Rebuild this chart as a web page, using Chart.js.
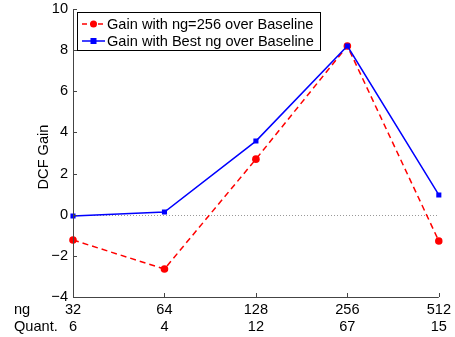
<!DOCTYPE html>
<html>
<head>
<meta charset="utf-8">
<script src="https://cdn.jsdelivr.net/npm/chart.js@4.4.0/dist/chart.umd.min.js"></script>
<style>
  html, body { margin: 0; padding: 0; background: #fff; }
  #wrap { width: 455px; height: 337px; }
</style>
</head>
<body>
<div id="wrap"><canvas id="chart" width="455" height="337"></canvas></div>
<script>
const ngLabels = ['32', '64', '128', '256', '512'];
const quantLabels = ['6', '4', '12', '67', '15'];
const gainNg256 = [-1.23, -2.64, 2.7, 8.2, -1.28];
const gainBestNg = [-0.06, 0.13, 3.58, 8.2, 0.96];
const yTicks = [-4, -2, 0, 2, 4, 6, 8, 10];

const FONT = '"Liberation Sans", Arial, sans-serif';
const FSIZE = 14.6;
const AXIS = '#444';

// draws the extra bits matlab style: zero line, inside ticks, titles, legend box
const extras = {
    id: 'extras',
    beforeDatasetsDraw(chart) {
        const { ctx, chartArea, scales } = chart;
        const y0 = scales.y.getPixelForValue(0);
        ctx.save();
        ctx.strokeStyle = '#999';
        ctx.lineWidth = 1;
        ctx.setLineDash([1, 2]);
        ctx.beginPath();
        ctx.moveTo(chartArea.left, Math.round(y0) + 0.5);
        ctx.lineTo(chartArea.right, Math.round(y0) + 0.5);
        ctx.stroke();
        ctx.restore();
    },
    afterDraw(chart) {
        const { ctx, chartArea, scales } = chart;
        ctx.save();
        ctx.strokeStyle = AXIS;
        ctx.lineWidth = 1;
        // axes
        ctx.beginPath();
        ctx.moveTo(chartArea.left + 0.5, chartArea.top);
        ctx.lineTo(chartArea.left + 0.5, chartArea.bottom + 0.5);
        ctx.lineTo(chartArea.right, chartArea.bottom + 0.5);
        ctx.stroke();
        // inside ticks
        yTicks.forEach(v => {
            const py = Math.round(scales.y.getPixelForValue(v)) + 0.5;
            ctx.beginPath();
            ctx.moveTo(chartArea.left, py);
            ctx.lineTo(chartArea.left + 4, py);
            ctx.stroke();
        });
        ngLabels.forEach((l, i) => {
            const px = Math.round(scales.x.getPixelForValue(i)) + 0.5;
            ctx.beginPath();
            ctx.moveTo(px, chartArea.bottom);
            ctx.lineTo(px, chartArea.bottom - 4);
            ctx.stroke();
        });

        ctx.fillStyle = '#000';
        ctx.font = FSIZE + 'px ' + FONT;
        ctx.textBaseline = 'middle';
        ctx.textAlign = 'left';
        ctx.fillText('ng', 14, 310);
        ctx.fillText('Quant.', 14, 327);

        // y title
        ctx.save();
        ctx.translate(44, 157);
        ctx.rotate(-Math.PI / 2);
        ctx.textAlign = 'center';
        ctx.fillText('DCF Gain', 0, 0);
        ctx.restore();

        // legend
        const bx = 77.5, by = 12.5, bw = 243, bh = 38;
        ctx.fillStyle = '#fff';
        ctx.fillRect(bx, by, bw, bh);
        ctx.strokeStyle = '#000';
        ctx.strokeRect(bx, by, bw, bh);
        const rows = [
            { text: 'Gain with ng=256 over Baseline', color: '#ff0000', dash: [5, 3], shape: 'circle' },
            { text: 'Gain with Best ng over Baseline', color: '#0000ff', dash: [], shape: 'rect' }
        ];
        rows.forEach((r, i) => {
            const cy = 24 + i * 17;
            ctx.strokeStyle = r.color;
            ctx.lineWidth = 1.5;
            ctx.setLineDash(r.dash);
            ctx.beginPath();
            ctx.moveTo(82, cy);
            ctx.lineTo(105, cy);
            ctx.stroke();
            ctx.setLineDash([]);
            ctx.fillStyle = r.color;
            if (r.shape === 'circle') {
                ctx.beginPath();
                ctx.arc(93.5, cy, 3.5, 0, Math.PI * 2);
                ctx.fill();
            } else {
                ctx.fillRect(90.5, cy - 3, 6, 6);
            }
            ctx.fillStyle = '#000';
            ctx.textAlign = 'left';
            ctx.fillText(r.text, 107, cy + 1);
        });
        ctx.restore();
    }
};

new Chart(document.getElementById('chart'), {
    type: 'line',
    data: {
        labels: ngLabels.map((l, i) => [l, quantLabels[i]]),
        datasets: [
            {
                label: 'Gain with ng=256 over Baseline',
                data: gainNg256,
                borderColor: '#ff0000',
                backgroundColor: '#ff0000',
                borderWidth: 1.5,
                borderDash: [6, 4],
                pointStyle: 'circle',
                pointRadius: 3.8,
                pointBorderWidth: 0,
                tension: 0,
                order: 1
            },
            {
                label: 'Gain with Best ng over Baseline',
                data: gainBestNg,
                borderColor: '#0000ff',
                backgroundColor: '#0000ff',
                borderWidth: 1.5,
                pointStyle: 'rect',
                pointRadius: 3.6,
                pointBorderWidth: 0,
                tension: 0,
                order: 0
            }
        ]
    },
    options: {
        responsive: false,
        animation: false,
        layout: { padding: { left: 0, right: 16, top: 0, bottom: 0 } },
        plugins: {
            legend: { display: false },
            tooltip: { enabled: false }
        },
        scales: {
            x: {
                offset: false,
                border: { display: false },
                grid: { display: false, drawTicks: false },
                ticks: {
                    color: '#000',
                    font: { family: FONT, size: FSIZE, lineHeight: 1.2 },
                    padding: 4,
                    maxRotation: 0,
                    autoSkip: false
                },
                afterFit(s) { s.height = 40; }
            },
            y: {
                min: -4,
                max: 10,
                border: { display: false },
                grid: { display: false, drawTicks: false },
                afterBuildTicks(s) { s.ticks = yTicks.map(v => ({ value: v })); },
                ticks: {
                    color: '#000',
                    font: { family: FONT, size: FSIZE },
                    padding: 5,
                    callback: v => String(v).replace('-', '\u2212')
                },
                afterFit(s) { s.width = 73; s.paddingTop = 9; }
            }
        }
    },
    plugins: [extras]
});
</script>
</body>
</html>
